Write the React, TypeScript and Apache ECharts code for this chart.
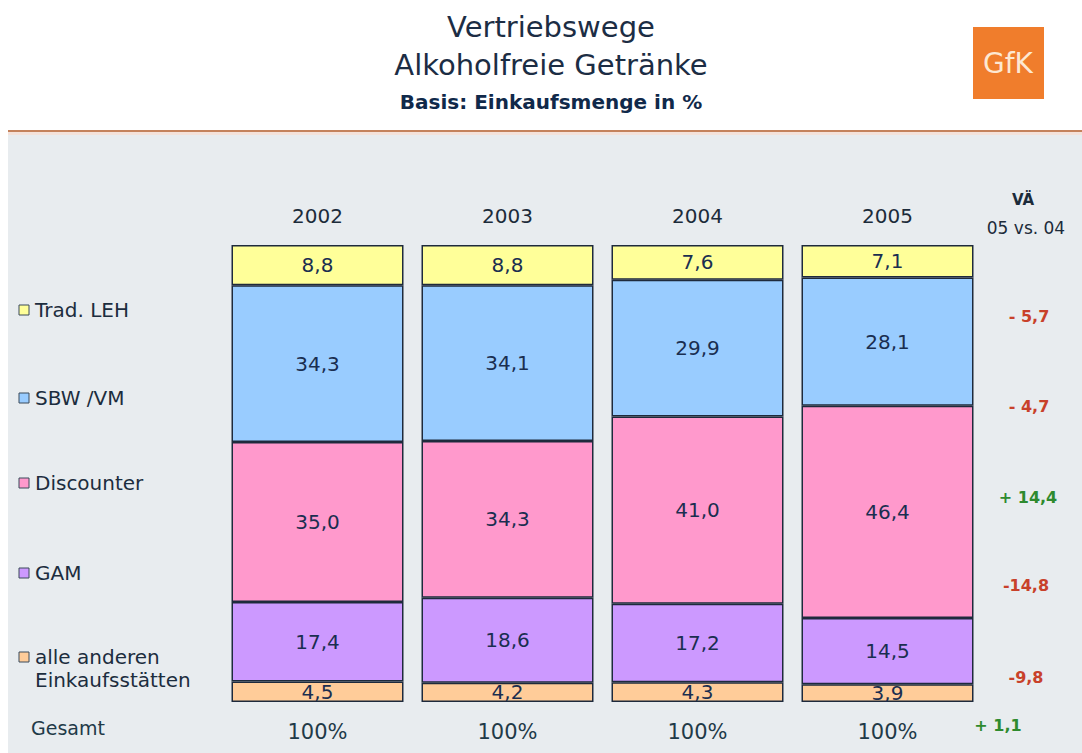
import React, { useEffect, useRef } from "react";
import * as echarts from "echarts";

const years = ["2002", "2003", "2004", "2005"];
const totals = ["100%", "100%", "100%", "100%"];
const seriesNames = ["alle anderen Einkaufsstätten", "GAM", "Discounter", "SBW/VM", "Trad. LEH"];
const otherValues = [4.5, 4.2, 4.3, 3.9];
const gamValues = [17.4, 18.6, 17.2, 14.5];
const discounterValues = [35.0, 34.3, 41.0, 46.4];
const sbwValues = [34.3, 34.1, 29.9, 28.1];
const tradValues = [8.8, 8.8, 7.6, 7.1];
const seriesColors = ["#ffcc99", "#cc99ff", "#ff99cc", "#99ccff", "#ffff99"];

const legendLabels = ["Trad. LEH", "SBW /VM", "Discounter", "GAM", "alle anderen\nEinkaufsstätten"];
const legendColors = ["#ffff99", "#99ccff", "#ff99cc", "#cc99ff", "#ffcc99"];
const changeLabels = ["- 5,7", "- 4,7", "+ 14,4", "-14,8", "-9,8", "+ 1,1"];
const changePositive = [false, false, true, false, false, true];

const FONT = "DejaVu Sans, Verdana, sans-serif";

export default function App() {
  const ref = useRef<HTMLDivElement>(null);
  useEffect(() => {
    if (!ref.current) return;
    const chart = echarts.init(ref.current, null, { renderer: "svg" });
    const values = [otherValues, gamValues, discounterValues, sbwValues, tradValues];

    const legendY = [310, 398, 483, 573, 657];
    const changeY = [316, 406, 497, 585, 677, 725];
    const changeX = [1029, 1029, 1028, 1026, 1026, 998];

    const graphic: any[] = [
      { type: "rect", z: -10, shape: { x: 8, y: 133, width: 1074, height: 620 }, style: { fill: "#e8ecef" } },
      { type: "rect", z: -9, shape: { x: 8, y: 132, width: 1074, height: 3 }, style: { fill: "#f4e2da" } },
      { type: "line", z: -8, shape: { x1: 8, y1: 131, x2: 1082, y2: 131 }, style: { stroke: "#c4825c", lineWidth: 2 } },
      { type: "rect", shape: { x: 973, y: 27, width: 71, height: 72 }, style: { fill: "#f07d2c" } },
      {
        type: "text", x: 1008, y: 63,
        style: { text: "GfK", fill: "#fde8d2", fontSize: 28, fontFamily: FONT, align: "center", verticalAlign: "middle" },
      },
      {
        type: "text", x: 1023, y: 200,
        style: { text: "VÄ", fill: "#1c2b3a", fontSize: 15, fontWeight: "bold", fontFamily: FONT, align: "center", verticalAlign: "middle" },
      },
      {
        type: "text", x: 1026, y: 228,
        style: { text: "05 vs. 04", fill: "#1c2b3a", fontSize: 17, fontFamily: FONT, align: "center", verticalAlign: "middle" },
      },
      {
        type: "text", x: 31, y: 728,
        style: { text: "Gesamt", fill: "#1f3a48", fontSize: 19, fontFamily: FONT, align: "left", verticalAlign: "middle" },
      },
    ];
    legendLabels.forEach((name, i) => {
      graphic.push({
        type: "rect",
        shape: { x: 19, y: legendY[i] - 5, width: 10, height: 10 },
        style: { fill: legendColors[i], stroke: "#3a4a5a", lineWidth: 1 },
      });
      graphic.push({
        type: "text", x: 35, y: legendY[i] - 12,
        style: { text: name, fill: "#1c2d3e", fontSize: 20, lineHeight: 23, fontFamily: FONT, align: "left", verticalAlign: "top" },
      });
    });
    changeLabels.forEach((t, i) => {
      graphic.push({
        type: "text", x: changeX[i], y: changeY[i],
        style: {
          text: t, fill: changePositive[i] ? "#2e8a2e" : "#c8412a", fontSize: 16, fontWeight: "bold",
          fontFamily: FONT, align: "center", verticalAlign: "middle",
        },
      });
    });

    chart.setOption({
      animation: false,
      title: {
        text: "Vertriebswege\nAlkoholfreie Getränke",
        subtext: "Basis: Einkaufsmenge in %",
        left: 546,
        top: 3,
        textAlign: "center",
        itemGap: 6,
        textStyle: { fontSize: 29, fontWeight: "normal", lineHeight: 38, color: "#1c2d44", fontFamily: FONT },
        subtextStyle: { fontSize: 20, fontWeight: "bold", lineHeight: 24, color: "#10294a", fontFamily: FONT },
      },
      grid: { left: 222.5, right: 99.5, top: 245, bottom: 51 },
      xAxis: [
        {
          type: "category", data: years, position: "top",
          axisLine: { show: false }, axisTick: { show: false },
          axisLabel: { fontSize: 20, color: "#1c2b3a", fontFamily: FONT, margin: 19 },
        },
        {
          type: "category", data: totals, position: "bottom",
          axisLine: { show: false }, axisTick: { show: false },
          axisLabel: { fontSize: 21, color: "#1f3a48", fontFamily: FONT, margin: 19 },
        },
      ],
      yAxis: { type: "value", min: 0, max: 100, show: false },
      graphic,
      series: seriesNames.map((name, i) => ({
        name,
        type: "bar",
        stack: "total",
        xAxisIndex: 0,
        barWidth: 172,
        data: values[i],
        itemStyle: { color: seriesColors[i], borderColor: "#1e2a3c", borderWidth: 1.5 },
        label: {
          show: true,
          position: "inside",
          fontSize: 20,
          color: "#1a2e50",
          fontFamily: FONT,
          formatter: (p: any) => Number(p.value).toFixed(1).replace(".", ","),
        },
      })),
    });
    return () => chart.dispose();
  }, []);
  return <div ref={ref} style={{ position: "absolute", left: 0, top: 0, width: 1082, height: 753 }} />;
}
